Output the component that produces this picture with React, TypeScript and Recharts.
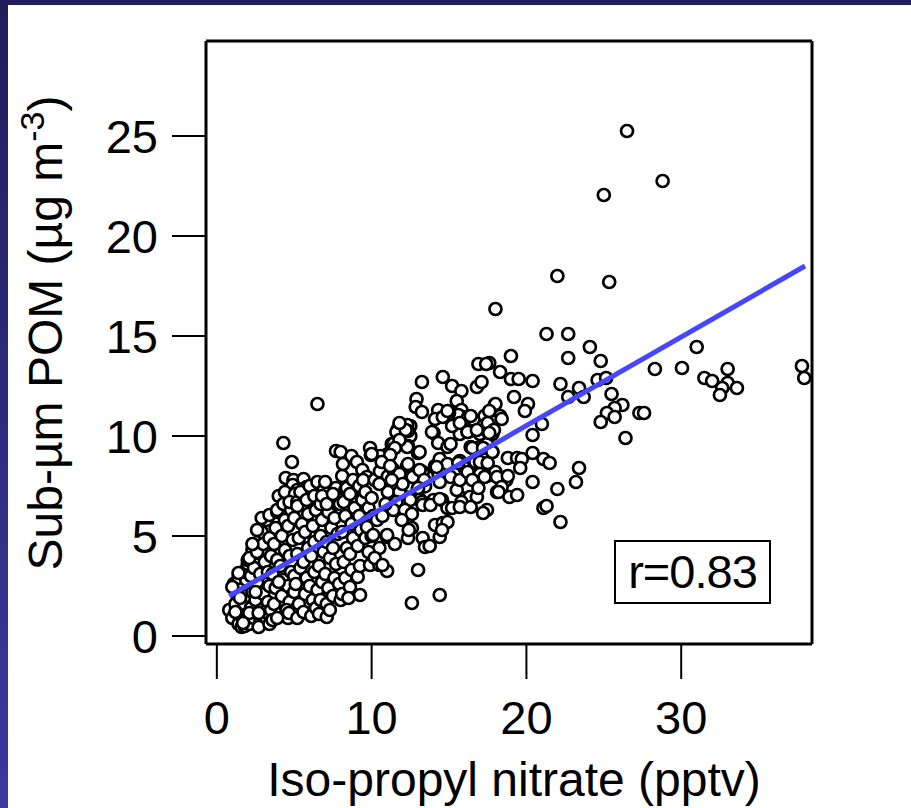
import { ScatterChart, Scatter, XAxis, YAxis } from "recharts";

// axis ticks
const X_TICKS = [0, 10, 20, 30];
const Y_TICKS = [0, 5, 10, 15, 20, 25];

// least-squares fit drawn over the points
const FIT_LINE = [
  { x: 0.8, y: 2.0 },
  { x: 38, y: 18.5 },
];
const R_TEXT = "r=0.83";

// iso-propyl nitrate (pptv), sub-um POM (ug m-3)
const lowCluster: [number, number][] = [
  [0.8, 1.3], [1.0, 0.9], [1.2, 1.6], [1.3, 2.1], [1.1, 2.6], [1.4, 0.6], [1.5, 1.2], [1.6, 0.45],
  [1.7, 0.8], [1.8, 1.6], [1.6, 2.4], [1.4, 2.9], [1.9, 2.0], [1.8, 0.5], [2.0, 1.1], [1.9, 2.8],
  [1.7, 3.2], [2.0, 3.6], [1.5, 1.9], [1.2, 1.2], [1.0, 2.45], [1.4, 3.15], [2.0, 3.8], [2.3, 4.3],
  [2.7, 4.15], [3.2, 4.3], [2.1, 0.6], [2.2, 1.4], [2.3, 2.2], [2.4, 0.9], [2.5, 1.8], [2.6, 2.7],
  [2.2, 3.0], [2.4, 3.4], [2.1, 3.9], [2.6, 4.2], [2.8, 0.7], [2.9, 1.3], [3.0, 2.1], [2.8, 3.1],
  [3.1, 3.7], [3.0, 4.6], [2.9, 5.2], [3.2, 0.9], [3.3, 1.7], [3.4, 2.5], [3.3, 3.2], [3.5, 4.0],
  [3.4, 4.9], [3.2, 5.8], [2.9, 5.9], [3.4, 6.05], [2.7, 0.45], [3.1, 1.2], [2.5, 2.2], [2.3, 4.6],
  [2.6, 5.3], [3.5, 1.3], [3.4, 0.6], [3.9, 6.2], [4.2, 6.15], [2.1, 1.15], [2.7, 1.15], [1.7, 0.65],
];

const midCluster: [number, number][] = [
  [3.6, 0.8], [3.7, 1.6], [3.8, 2.4], [3.6, 3.1], [3.9, 3.8], [3.7, 4.6], [3.8, 5.4], [3.9, 6.3],
  [4.0, 7.0], [4.1, 1.1], [4.2, 2.0], [4.3, 2.8], [4.1, 3.5], [4.4, 4.3], [4.2, 5.0], [4.4, 5.8],
  [4.3, 6.6], [4.45, 7.9], [4.6, 0.9], [4.7, 1.7], [4.6, 2.5], [4.8, 3.2], [4.7, 4.0], [4.9, 4.8],
  [4.6, 5.5], [4.8, 6.3], [4.7, 7.1], [4.95, 7.8], [5.0, 1.3], [5.0, 2.2], [5.0, 3.0], [5.0, 5.9],
  [4.5, 1.3], [3.9, 0.9], [4.0, 2.7], [4.65, 1.15], [5.75, 1.15], [4.3, 9.65], [4.85, 8.7],
  [5.6, 7.85], [4.9, 7.55], [5.8, 7.45], [6.15, 7.4], [5.2, 7.3], [4.4, 7.2], [5.05, 7.1], [5.7, 7.1],
  [4.7, 6.7], [5.2, 6.7], [6.0, 6.8], [6.5, 6.5], [5.2, 0.9], [5.3, 1.6], [5.1, 2.6], [5.4, 3.4],
  [5.2, 4.1], [5.3, 4.9], [5.5, 5.6], [5.2, 6.5], [5.4, 7.2], [5.6, 1.2], [5.7, 2.1], [5.8, 2.9],
  [5.6, 3.7], [5.9, 4.4], [5.7, 5.2], [5.9, 6.1], [5.8, 6.8], [6.0, 7.5], [6.1, 1.0], [6.2, 1.8],
  [6.0, 2.5], [6.3, 3.2], [6.1, 4.0], [6.3, 4.7], [6.2, 5.5], [6.4, 6.3], [6.3, 7.0], [6.5, 7.7],
  [6.4, 1.4], [6.5, 2.3], [6.5, 11.6],
  [6.6, 1.1], [7.1, 0.95], [6.7, 1.8], [6.8, 2.7], [6.6, 3.5], [6.9, 4.2], [6.7, 5.0], [6.8, 5.8],
  [6.7, 6.6], [6.9, 7.3], [7.0, 7.7], [7.1, 1.6], [7.2, 2.4], [7.0, 3.1], [7.3, 3.9], [7.1, 4.7],
  [7.4, 5.4], [7.2, 6.2], [7.4, 6.9], [7.5, 2.0], [7.6, 2.9], [7.7, 3.6], [7.5, 4.4], [7.8, 5.1],
  [7.6, 5.9], [7.8, 6.6], [7.7, 7.4], [8.0, 1.8], [7.9, 2.6], [7.7, 9.25], [7.3, 1.3], [6.8, 7.0],
  [7.1, 6.6], [7.5, 7.1], [7.95, 6.6], [8.3, 7.3], [8.8, 7.1], [9.1, 6.8], [9.45, 6.8],
];

const upperCluster: [number, number][] = [
  [8.1, 2.1], [8.3, 2.9], [8.2, 3.7], [8.4, 4.4], [8.1, 5.2], [8.3, 6.0], [8.2, 6.7], [8.4, 7.4],
  [8.1, 8.0], [8.0, 9.2], [8.15, 8.6], [8.6, 2.45], [8.7, 3.3], [8.6, 4.1], [8.8, 4.9], [8.7, 5.6],
  [8.9, 6.4], [8.6, 7.1], [8.8, 7.8], [8.7, 9.0], [9.05, 8.7], [9.1, 2.95], [9.25, 2.05], [9.25, 3.5],
  [9.1, 4.5], [9.3, 5.3], [9.2, 6.0], [9.4, 6.8], [9.2, 7.5], [9.4, 8.3], [9.7, 7.95], [9.45, 7.8],
  [9.6, 4.9], [9.7, 5.7], [9.8, 6.4], [9.6, 7.2], [9.9, 3.55], [9.9, 9.4], [9.95, 9.05], [10.0, 5.0],
  [10.1, 6.0], [10.2, 7.8], [10.0, 6.9], [8.5, 1.9], [10.5, 3.55], [11.0, 3.25],
  [9.7, 5.45], [10.1, 5.05], [11.0, 4.95], [10.35, 5.8], [10.5, 4.4], [9.8, 4.2], [11.5, 4.6], [10.2, 3.9],
  [10.54, 8.23], [11.05, 7.98], [11.38, 8.33], [11.83, 7.98], [12.28, 8.48], [12.8, 7.98], [12.48, 7.48],
  [12.99, 7.33], [13.45, 7.48], [13.12, 6.83], [12.67, 6.48], [13.32, 6.58], [13.58, 7.98],
  [11.7, 10.35], [12.0, 10.25], [12.5, 10.5], [11.7, 10.1], [12.5, 10.0], [12.35, 9.5], [13.0, 9.15],
  [11.3, 9.6], [11.05, 9.1], [10.55, 9.0], [10.0, 9.1], [10.7, 8.7], [12.3, 10.55], [11.8, 10.4],
  [11.6, 10.2], [12.35, 10.25], [11.4, 9.6], [13.1, 9.2], [12.2, 10.3], [11.8, 10.65], [14.0, 10.15],
  [14.3, 9.65], [14.9, 9.45], [12.3, 9.45], [11.8, 9.8], [13.9, 10.2], [15.1, 9.6], [15.7, 10.1],
  [16.2, 10.2], [17.0, 10.1], [17.6, 10.1], [16.4, 9.45], [17.0, 9.45], [17.45, 9.6], [11.5, 9.4],
  [11.2, 9.05],
  [12.35, 8.6], [11.8, 8.1], [12.65, 7.95], [13.3, 8.2], [14.1, 8.5], [14.4, 8.85], [14.9, 8.6],
  [15.7, 8.75], [15.1, 7.95], [14.4, 7.7], [16.0, 8.4], [16.7, 8.7], [17.0, 8.1], [17.45, 8.0],
  [18.0, 8.2], [18.1, 7.2], [16.8, 7.6], [16.2, 7.4], [15.5, 7.3], [16.35, 6.95], [15.8, 6.7],
  [16.8, 6.95], [17.45, 6.3], [17.2, 6.15], [11.05, 7.2], [11.8, 7.2], [11.6, 6.7], [12.5, 6.8],
  [13.25, 6.7], [14.0, 6.8], [14.55, 6.8], [14.9, 6.4], [15.2, 6.4], [10.7, 6.0], [11.4, 6.3],
  [12.15, 6.3], [12.6, 6.1], [11.95, 5.8], [13.3, 6.55], [13.8, 6.55], [14.1, 5.55], [14.6, 5.65],
  [14.9, 5.7], [14.4, 4.95], [13.3, 4.9], [12.35, 4.9], [13.45, 4.45], [12.6, 5.4], [11.0, 5.05],
  [10.7, 3.55], [13.0, 3.3], [14.4, 2.05], [12.6, 1.65], [13.1, 8.3], [13.4, 7.8], [14.2, 8.45],
  [15.6, 8.65], [15.7, 7.8], [16.2, 8.2], [16.5, 7.8], [16.9, 7.4], [17.3, 7.95], [18.7, 7.8],
  [14.4, 6.85], [15.7, 6.45], [16.4, 6.45], [12.4, 5.3], [14.55, 5.3], [13.75, 4.5], [10.65, 8.7],
  [11.2, 8.5], [12.0, 7.6], [13.0, 7.4], [10.5, 7.6], [11.3, 7.8], [10.9, 6.6],
];

const highPoints: [number, number][] = [
  [14.6, 12.95], [13.25, 12.7], [15.2, 12.5], [15.8, 12.25], [16.8, 12.45], [17.1, 12.7], [15.5, 11.75],
  [12.9, 11.85], [12.85, 11.45], [13.25, 11.2], [15.8, 11.3], [15.9, 10.95], [15.6, 11.05], [14.3, 11.3],
  [15.0, 11.15], [14.1, 10.85], [14.6, 10.95], [16.2, 10.9], [16.6, 10.8], [16.4, 11.0], [14.9, 11.25],
  [17.3, 11.0], [17.95, 11.55], [18.3, 11.0], [17.85, 10.7], [17.2, 10.5], [16.35, 10.25], [15.2, 10.5],
  [17.8, 10.1], [15.7, 10.65], [16.2, 10.2], [16.8, 10.3], [17.5, 10.65], [16.5, 9.4], [17.2, 9.4],
  [17.0, 8.7], [17.5, 8.65], [17.8, 9.2],
];

const outliers: [number, number][] = [
  [26.5, 25.25], [25.0, 22.05], [28.8, 22.75], [22.0, 18.0], [25.35, 17.7], [18.0, 16.35], [21.3, 15.1],
  [22.7, 15.1], [24.1, 14.45], [31.0, 14.45], [19.0, 14.0], [22.7, 13.9], [24.8, 13.75], [17.6, 13.65],
  [16.9, 13.6], [17.4, 13.6], [18.3, 13.2], [28.3, 13.35], [30.05, 13.4], [33.0, 13.35], [37.8, 13.5],
  [37.95, 12.9], [31.5, 12.9], [32.0, 12.75], [33.0, 12.65], [33.6, 12.4], [32.65, 12.4], [32.5, 12.05],
  [19.0, 12.85], [19.5, 12.85], [20.4, 12.75], [22.2, 12.6], [24.6, 12.8], [25.15, 12.9], [23.4, 12.4],
  [23.7, 11.95], [22.7, 11.95], [25.5, 12.1], [19.2, 11.95], [18.0, 11.6], [17.6, 11.25], [18.4, 10.85],
  [17.9, 10.3], [17.6, 10.15], [20.1, 11.6], [19.9, 11.25], [26.2, 11.55], [25.7, 11.4], [25.2, 11.15],
  [25.7, 10.95], [24.8, 10.7], [27.3, 11.15], [27.6, 11.15], [21.0, 10.6], [20.4, 10.05], [26.4, 9.9],
  [17.8, 9.2], [20.4, 9.15], [18.8, 8.9], [19.4, 8.9], [19.7, 8.85], [21.1, 8.85], [21.5, 8.65],
  [19.6, 8.4], [23.4, 8.4], [23.2, 7.7], [18.1, 7.95], [18.8, 8.0], [20.4, 7.7], [18.4, 7.45],
  [18.2, 7.2], [18.9, 6.95], [19.4, 7.05], [22.0, 7.35], [21.1, 6.4], [21.3, 6.5], [22.2, 5.7],
];

const FONT = "'Liberation Sans', Arial, Helvetica, sans-serif";

const points = [...lowCluster, ...midCluster, ...upperCluster, ...highPoints, ...outliers].map(
  ([x, y]) => ({ x, y })
);

const Ring = (props: any) => (
  <circle cx={props.cx} cy={props.cy} r={6} fill="#fff" stroke="#000" strokeWidth={2.7} />
);

const NoShape = () => <g />;

const XTick = (props: any) => (
  <text x={props.x} y={props.y + 34} textAnchor="middle" fontSize={47} fontFamily={FONT} fill="#000">
    {props.payload.value}
  </text>
);

const YTick = (props: any) => (
  <text x={props.x} y={props.y + 17} textAnchor="end" fontSize={47} fontFamily={FONT} fill="#000">
    {props.payload.value}
  </text>
);

const XTitle = () => (
  <text x={514} y={796} textAnchor="middle" fontSize={48} fontFamily={FONT} fill="#000">
    Iso-propyl nitrate (pptv)
  </text>
);

const YTitle = () => (
  <text
    transform="translate(62,333) rotate(-90)"
    textAnchor="middle"
    fontSize={48}
    fontFamily={FONT}
    fill="#000"
  >
    Sub-µm POM (µg m
    <tspan dy={-18} fontSize={34}>-3</tspan>
    <tspan dy={18}>)</tspan>
  </text>
);

export default function App() {
  return (
    <div
      style={{
        position: "fixed",
        left: 0,
        top: 0,
        width: 911,
        height: 808,
        background: "#fff",
        overflow: "hidden",
      }}
    >
      <div style={{ position: "absolute", left: 0, top: 0, width: 911, height: 5, background: "#221f5f" }} />
      <div
        style={{
          position: "absolute",
          left: 0,
          top: 0,
          width: 8,
          height: 808,
          background: "linear-gradient(#1f1d5a, #3a3aa0)",
        }}
      />
      <ScatterChart width={911} height={808} margin={{ top: 0, right: 0, bottom: 0, left: 0 }}>
        <XAxis
          xAxisId="b"
          dataKey="x"
          type="number"
          domain={[-0.7, 38.45]}
          ticks={X_TICKS}
          allowDataOverflow
          height={164}
          tickSize={35}
          tickMargin={21}
          axisLine={{ stroke: "#000", strokeWidth: 3 }}
          tickLine={{ stroke: "#000", strokeWidth: 2 }}
          tick={<XTick />}
          label={{ content: <XTitle /> }}
        />
        <XAxis
          xAxisId="t"
          orientation="top"
          type="number"
          domain={[-0.7, 38.45]}
          ticks={X_TICKS}
          allowDataOverflow
          height={41}
          tickSize={36}
          axisLine={{ stroke: "#000", strokeWidth: 3 }}
          tickLine={{ stroke: "#000", strokeWidth: 2 }}
          tick={false}
        />
        <YAxis
          yAxisId="l"
          dataKey="y"
          type="number"
          domain={[-0.4, 29.75]}
          ticks={Y_TICKS}
          allowDataOverflow
          width={206}
          tickSize={34}
          tickMargin={14}
          axisLine={{ stroke: "#000", strokeWidth: 3 }}
          tickLine={{ stroke: "#000", strokeWidth: 2 }}
          tick={<YTick />}
          label={{ content: <YTitle /> }}
        />
        <YAxis
          yAxisId="r"
          orientation="right"
          type="number"
          domain={[-0.4, 29.75]}
          ticks={Y_TICKS}
          allowDataOverflow
          width={99}
          tickSize={34}
          axisLine={{ stroke: "#000", strokeWidth: 3 }}
          tickLine={{ stroke: "#000", strokeWidth: 2 }}
          tick={false}
        />
        <Scatter
          xAxisId="b"
          yAxisId="l"
          data={points}
          shape={<Ring />}
          isAnimationActive={false}
        />
        <Scatter
          xAxisId="b"
          yAxisId="l"
          data={FIT_LINE}
          line={{ stroke: "#4646ff", strokeWidth: 5 }}
          shape={<NoShape />}
          isAnimationActive={false}
        />
      </ScatterChart>
      <div
        style={{
          position: "absolute",
          left: 614,
          top: 540,
          width: 153,
          height: 60,
          border: "2px solid #000",
          background: "#fff",
          fontFamily: FONT,
          fontSize: 47,
          lineHeight: "60px",
          textAlign: "center",
          color: "#000",
          letterSpacing: -1,
        }}
      >
        {R_TEXT}
      </div>
    </div>
  );
}
